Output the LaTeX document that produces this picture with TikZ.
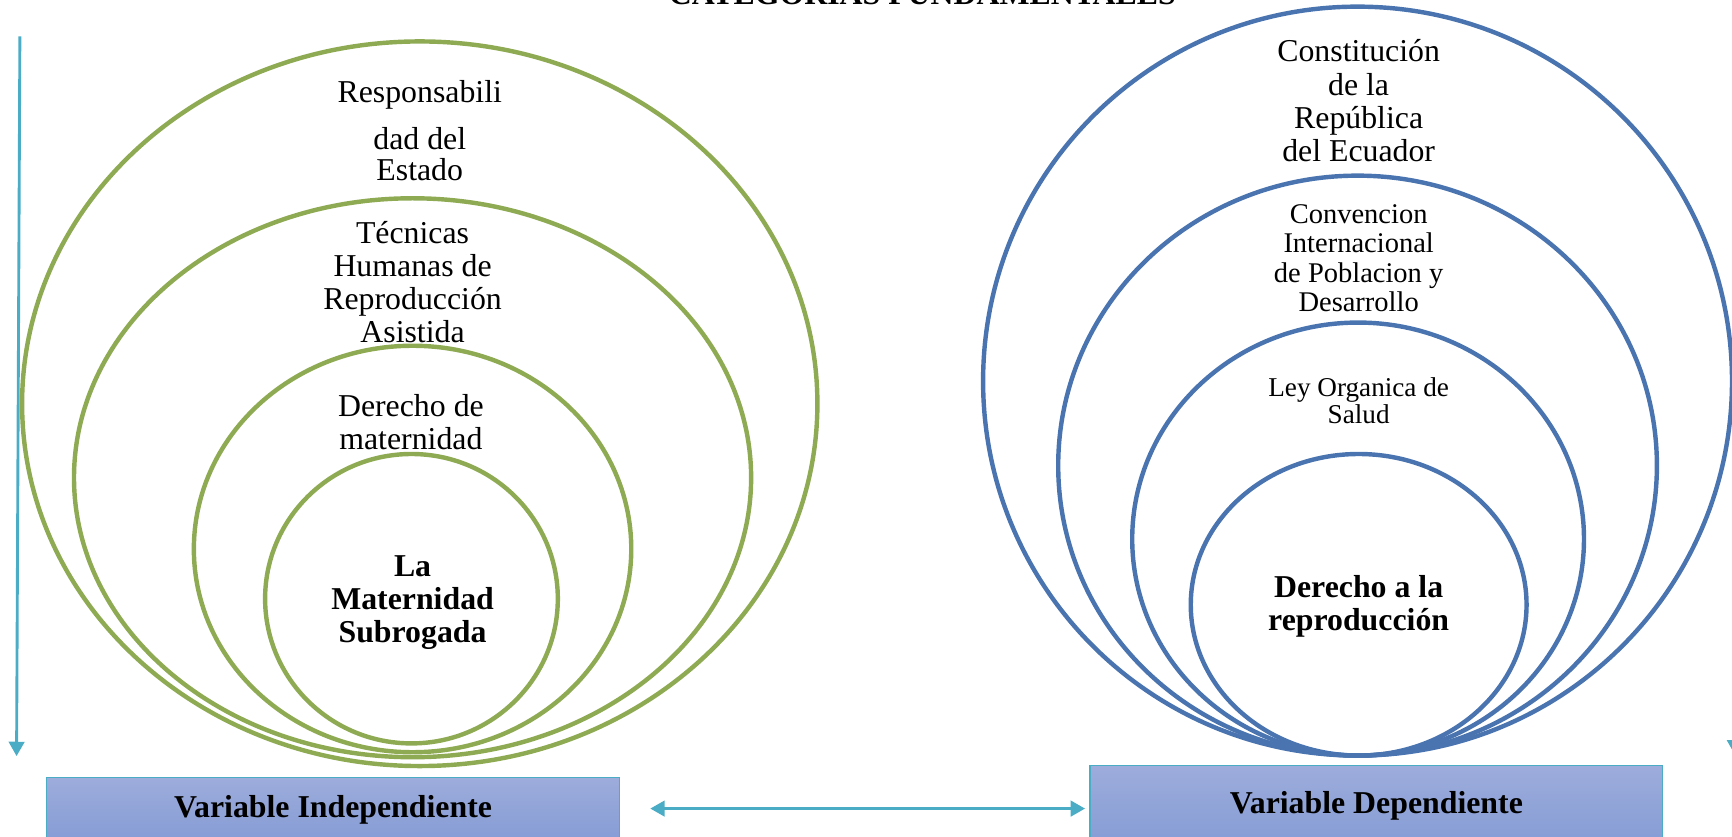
\documentclass[tikz,border=0pt]{standalone}
\usepackage{fontspec}
\setmainfont{Liberation Serif}
\usetikzlibrary{arrows.meta}
\definecolor{vgreen}{RGB}{142,171,83}
\definecolor{vblue}{RGB}{73,116,175}
\definecolor{vcyan}{RGB}{75,172,198}
\definecolor{boxtop}{RGB}{157,172,219}
\definecolor{boxbot}{RGB}{133,156,213}
\begin{document}
\begin{tikzpicture}[x=0.5pt,y=-0.5pt,
  gring/.style={draw=vgreen,line width=2pt},
  bring/.style={draw=vblue,line width=2pt},
  lbl/.style={align=center,inner sep=0pt,anchor=base,font=\fontsize{14.4}{15}\selectfont},
  blbl/.style={lbl,font=\bfseries\fontsize{14.4}{15}\selectfont},
  varbox/.style={draw=vcyan,line width=0.7pt,top color=boxtop,bottom color=boxbot,inner sep=0pt,font=\bfseries\fontsize{14.4}{15}\selectfont},
  arr/.style={draw=vcyan,line width=1.3pt,-{Triangle[width=7pt,length=6.5pt]}},
  darr/.style={draw=vcyan,line width=1.3pt,{Triangle[width=7pt,length=6.5pt]}-{Triangle[width=7pt,length=6.5pt]}},
]
\path[use as bounding box, clip] (0,0) rectangle (1568,757);

% title
\node[anchor=base,inner sep=0pt,font=\bfseries\fontsize{14.4}{15}\selectfont] (title) at (835,4) {CATEGORIAS FUNDAMENTALES};

% green rings
\draw[gring] (380,365.5) ellipse [x radius=360, y radius=328];
\draw[gring] (373.5,432.5) ellipse [x radius=306.5, y radius=253];
\draw[gring] (373.5,497) ellipse [x radius=198, y radius=184];
\draw[gring] (372.5,542) ellipse [x radius=132.5, y radius=131];

% blue rings
\draw[bring] (1229,345) ellipse [x radius=339, y radius=339];
\draw[bring] (1229,421.5) ellipse [x radius=271, y radius=262.5];
\draw[bring] (1229.5,488) ellipse [x radius=204.5, y radius=196];
\draw[bring] (1230,547.5) ellipse [x radius=152, y radius=136.5];

% left texts (anchor = baseline of last line)
\node[lbl] (resp) at (380,93) {Responsabili};
\node[lbl,font=\fontsize{14.4}{14.25}\selectfont] (dad) at (380,163.5) {dad del\\Estado};
\node[lbl] (tec) at (373.5,310) {Técnicas\\Humanas de\\Reproducción\\Asistida};
\node[lbl] (der) at (372,407) {Derecho de\\maternidad};
\node[blbl] (mat) at (373.5,582) {La\\Maternidad\\Subrogada};

% right texts
\node[lbl] (con) at (1230,146) {Constitución\\de la\\República\\del Ecuador};
\node[lbl,font=\fontsize{12.9}{13.3}\selectfont] (conv) at (1230,282) {Convencion\\Internacional\\de Poblacion y\\Desarrollo};
\node[lbl,font=\fontsize{12.3}{12}\selectfont] (ley) at (1230,383) {Ley Organica de\\Salud};
\node[blbl] (drep) at (1230,571) {Derecho a la\\reproducción};

% variable boxes
\node[varbox,minimum width=259.5pt,minimum height=29pt] (vi) at (301.5,733) {Variable Independiente};
\node[varbox,minimum width=259pt,minimum height=36.3pt] (vd) at (1246,729.3) {Variable Dependiente};

% arrows
\coordinate (la1) at (18,33);
\coordinate (la2) at (15,684.5);
\draw[arr] (la1) -- (la2);
\coordinate (ra1) at (1572,33);
\coordinate (ra2) at (1570.5,683);
\draw[arr] (ra1) -- (ra2);
\draw[darr,shorten <=13.5pt,shorten >=2pt] (vi.east |- 0,732) -- (vd.west |- 0,732);
\end{tikzpicture}
\end{document}
